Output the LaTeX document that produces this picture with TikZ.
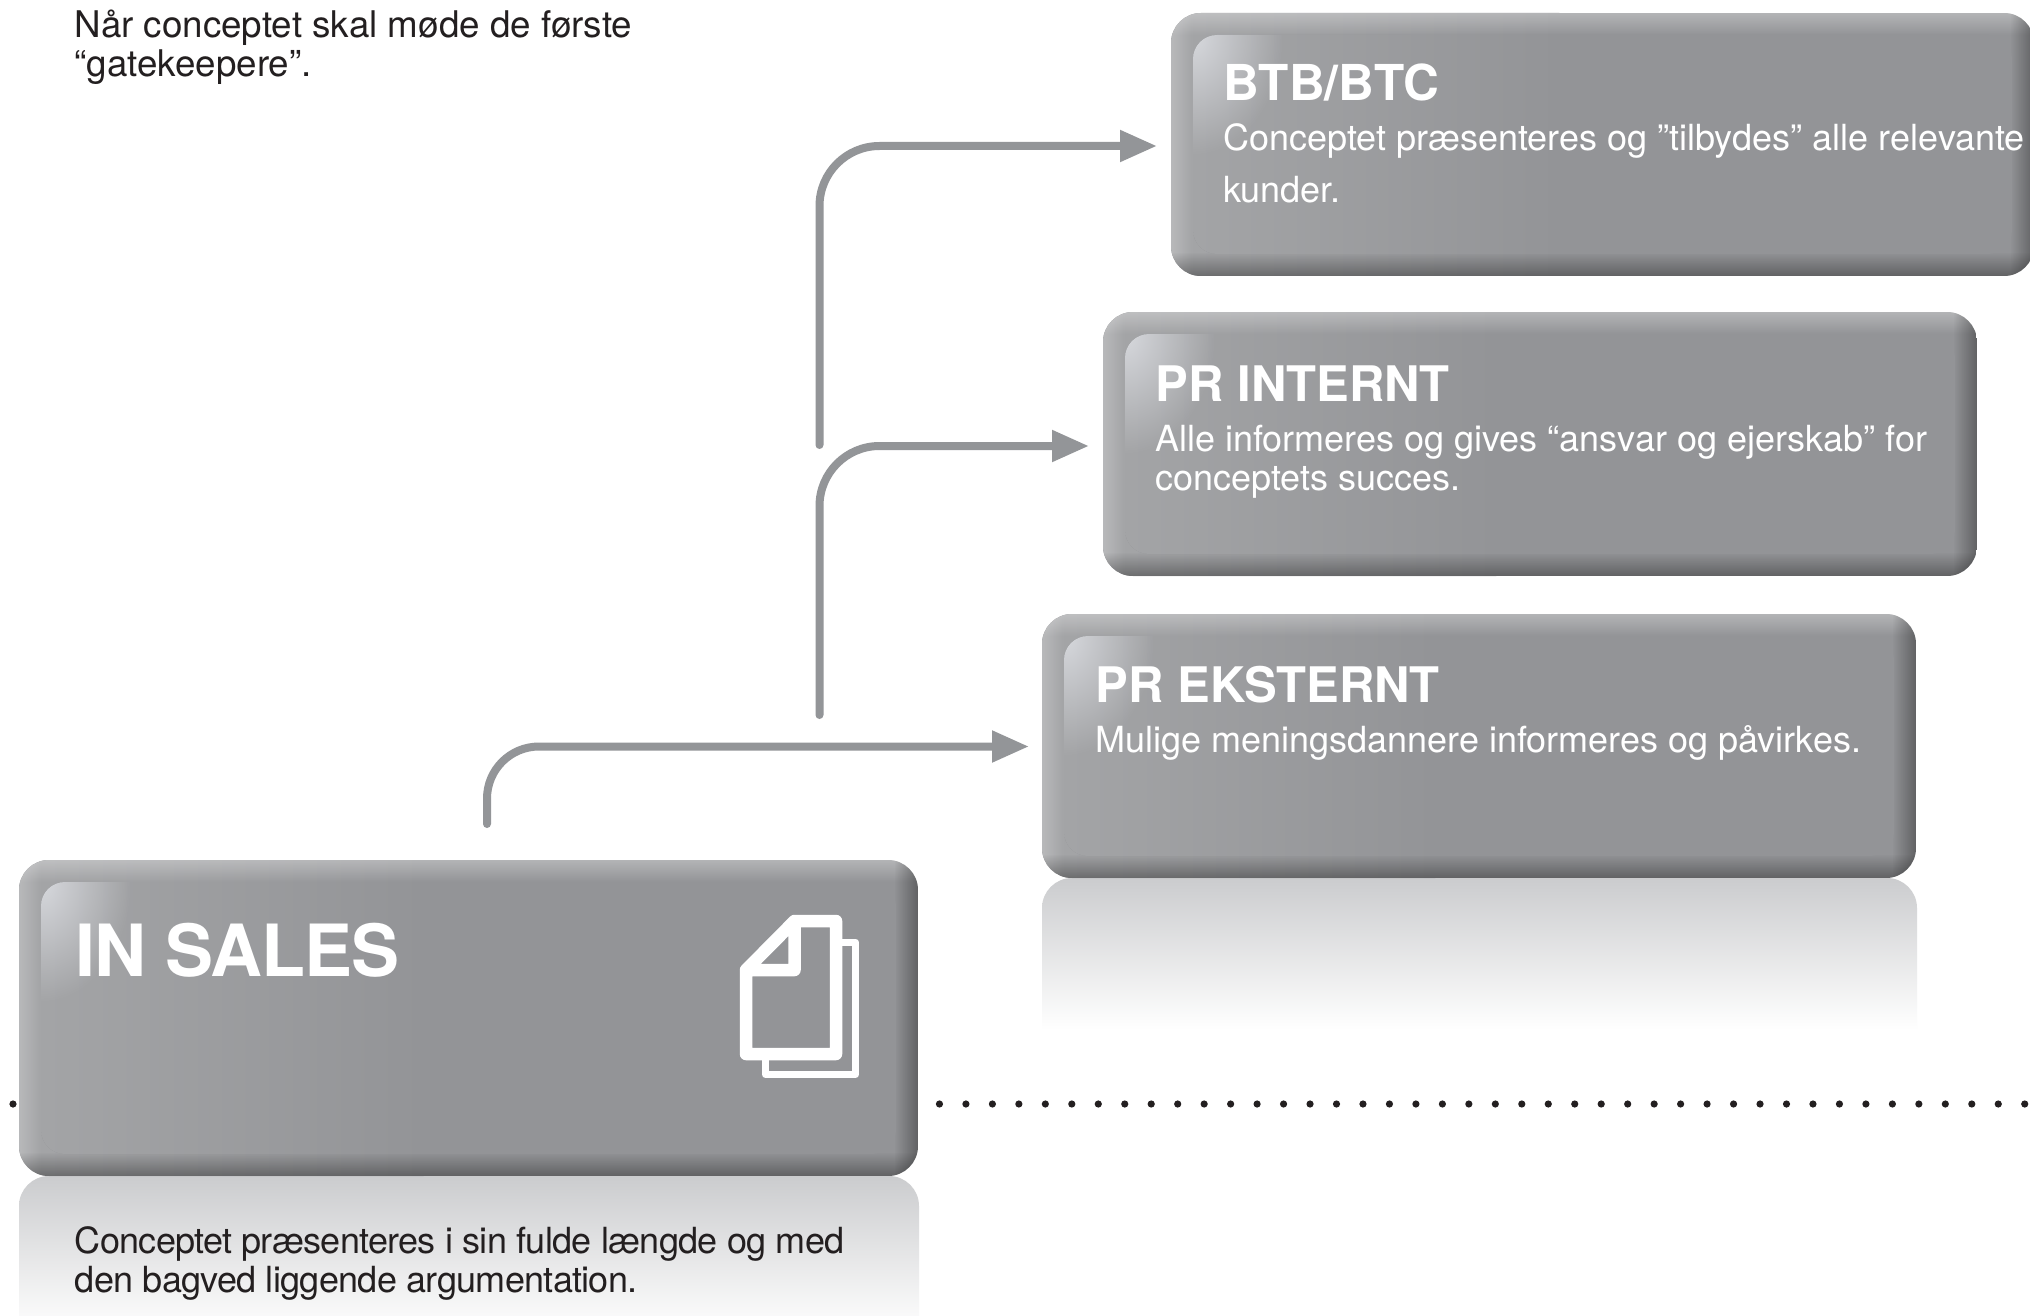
\documentclass[tikz,border=0pt]{standalone}
\usepackage{fontspec}
\setmainfont{TeX Gyre Heros}
\usetikzlibrary{arrows.meta,fadings}
\definecolor{basegray}{HTML}{939497}
\definecolor{leftgray}{HTML}{A4A5A7}
\definecolor{linegray}{HTML}{939598}
\definecolor{inkdark}{HTML}{231F20}
\definecolor{reflecttop}{HTML}{CBCCCE}
\definecolor{glowgray}{HTML}{E4E6EB}
\tikzfading[name=glowfade, inner color=transparent!20, outer color=transparent!100]
\tikzset{
  x=1pt, y=-1pt,
  conn/.style={draw=linegray, line width=8pt, line cap=round, -{Triangle[length=37pt,width=30pt]}},
  bodylight/.style={anchor=north west, inner sep=0pt, align=left, text=white, font=\fontsize{36}{39}\selectfont},
  bodywide/.style={bodylight, font=\fontsize{36}{52}\selectfont},
  bodydark/.style={bodylight, text=inkdark},
  headtext/.style={anchor=base west, inner sep=0pt, text=white, font=\fontsize{49}{52}\selectfont\bfseries},
  bigtext/.style={anchor=base west, inner sep=0pt, text=white, font=\fontsize{72}{76}\selectfont\bfseries\addfontfeature{LetterSpace=-1.5}},
  boxframe/.style={anchor=north west, inner sep=0pt, outer sep=0pt},
  iconline/.style={draw=white, line join=round, line cap=round},
}
\newcommand{\fl}{\rule{0pt}{30pt}}
% name, x, y, w, h
\newcommand{\bevelbox}[5]{%
  \begin{scope}
    \clip[rounded corners=30pt] (#2,#3) rectangle ++(#4,#5);
    \fill[basegray] (#2,#3) rectangle ++(#4,#5);
    \shade[left color=leftgray, right color=basegray] (#2,#3) rectangle ++(0.45*#4,#5);
    \fill[white, fill opacity=.22, path fading=east] (#2,#3) rectangle ++(22,#5);
    \fill[white, fill opacity=.30, path fading=south] (#2,#3) rectangle ++(#4,22);
    \fill[black, fill opacity=.34, path fading=north] (#2,#3+#5-24) rectangle ++(#4,24);
    \fill[black, fill opacity=.34, path fading=west] (#2+#4-24,#3) rectangle ++(24,#5);
    \begin{scope}
      \clip[rounded corners=24pt] (#2+22,#3+22) rectangle (#2+#4-22,#3+#5-22);
      \fill[basegray] (#2,#3) rectangle ++(#4,#5);
      \shade[left color=leftgray, right color=basegray] (#2,#3) rectangle ++(0.45*#4,#5);
      \fill[glowgray, path fading=glowfade] (#2+22,#3+22) ellipse [x radius=90, y radius=120];
    \end{scope}
  \end{scope}
  \node[boxframe, minimum width=#4 pt, minimum height=#5 pt] (#1) at (#2,#3) {};
}
% x, y, w, h
\newcommand{\reflection}[4]{%
  \shade[top color=reflecttop, bottom color=white, rounded corners=30pt]
    (#1,#2+#4) [sharp corners] -- (#1,#2+40) [rounded corners=30pt] -- (#1,#2) -- (#1+#3,#2) [sharp corners] -- (#1+#3,#2+40) -- (#1+#3,#2+#4) -- cycle;
}
\begin{document}
\begin{tikzpicture}
\useasboundingbox (0,0) rectangle (2030,1316);
\clip (0,0) rectangle (2030,1316);
\fill[white] (0,0) rectangle (2030,1316);

% dotted rule
\foreach \k in {0,...,76} \fill[inkdark] ({13+\k*26.47},1104) circle [radius=3.6];

% reflections
\reflection{1042}{878}{875}{152}
\reflection{19}{1176}{900}{156}

% boxes
\bevelbox{btb}{1171}{13}{863}{263}
\bevelbox{print}{1103}{312}{874}{264}
\bevelbox{prekst}{1042}{614}{874}{264}
\bevelbox{insales}{19}{860}{899}{316}

% connectors
\coordinate (s1) at (487,824); \coordinate (t1) at (1029,746.5);
\coordinate (s2) at (819.5,715); \coordinate (t2) at (1089,446);
\coordinate (s3) at (819.5,445); \coordinate (t3) at (1157,146);
\draw[conn, rounded corners=52pt] (s1) |- (t1);
\draw[conn, rounded corners=60pt] (s2) |- (t2);
\draw[conn, rounded corners=60pt] (s3) |- (t3);

% texts
\node[bodydark, font=\fontsize{36.75}{39}\selectfont] (intro) at (74.5,7) {\fl Når conceptet skal møde de første\\“gatekeepere”.};
\node[headtext, font=\fontsize{49.5}{52}\selectfont\bfseries] (h3) at (1223,101) {BTB/BTC};
\node[bodywide] (b3) at (1223,120) {\fl Conceptet præsenteres og ”tilbydes” alle relevante\\kunder.};
\node[headtext] (h2) at (1155.5,401) {PR INTERNT};
\node[bodylight] (b2) at (1155,421) {\fl Alle informeres og gives “ansvar og ejerskab” for\\conceptets succes.};
\node[headtext] (h1) at (1095.5,702) {PR EKSTERNT};
\node[bodylight] (b1) at (1095,722) {\fl Mulige meningsdannere informeres og påvirkes.};
\node[bigtext] (h0) at (75,976) {IN SALES};
\node[bodydark, font=\fontsize{36}{39}\selectfont\addfontfeature{LetterSpace=-1.9}] (b0) at (74.5,1223) {\fl Conceptet præsenteres i sin fulde længde og med\\den bagved liggende argumentation.};

% document icon
\draw[iconline, line width=7pt] (842,942) -- (855.5,942) -- (855.5,1074.5) -- (765.5,1074.5) -- (765.5,1060);
\draw[iconline, line width=12.5pt] (794.5,921) -- (836,921) -- (836,1054) -- (746,1054) -- (746,970) -- (794.5,921) -- (794.5,970) -- (746,970);
\end{tikzpicture}
\end{document}
